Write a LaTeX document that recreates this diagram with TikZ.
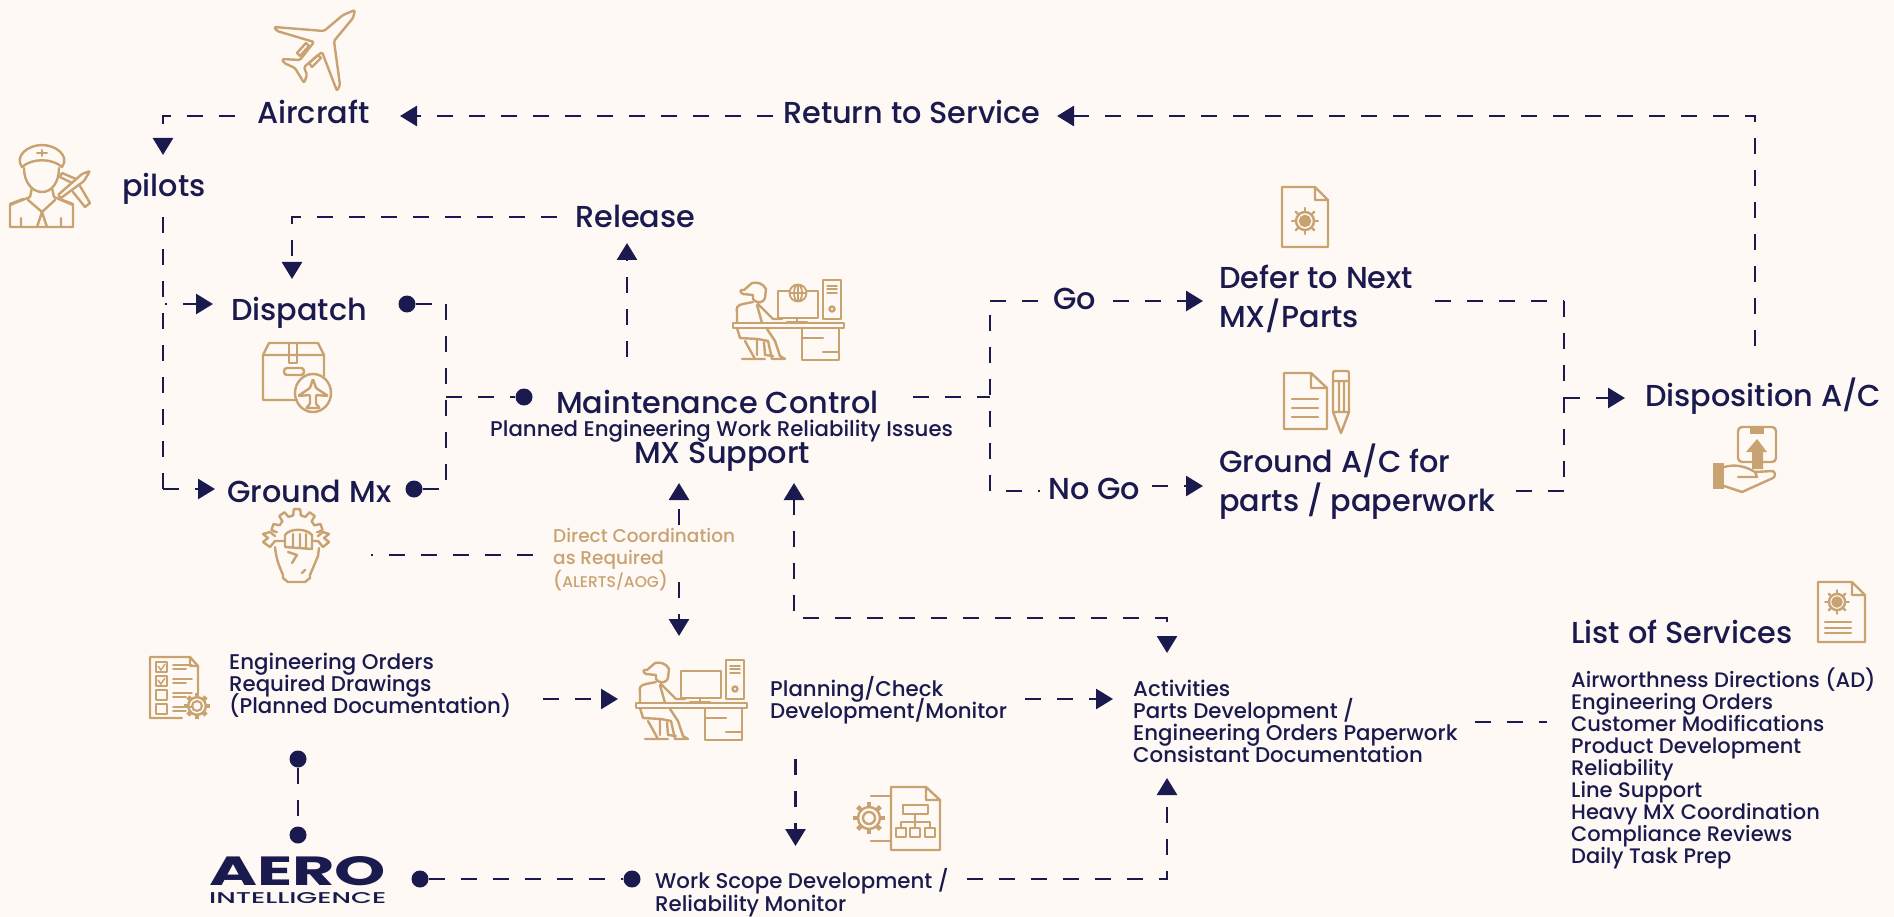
\documentclass[tikz,border=0pt]{standalone}
\usepackage{fontspec}
\setmainfont{Poppins}[UprightFont=* Medium,BoldFont=* Bold]
\usetikzlibrary{arrows.meta}
\definecolor{navy}{HTML}{1A1A4E}
\definecolor{tan}{HTML}{C9A272}
\definecolor{cream}{HTML}{FEF9F5}
\newcommand{\fsz}[2]{\fontsize{#1}{#2}\selectfont\lineskiplimit=-20pt\relax}
\tikzset{
  conn/.style={draw=navy, line width=2.8pt, dash pattern=on 16pt off 16pt},
  arr/.style={conn, -{Triangle[length=17pt,width=20pt]}},
  arrb/.style={conn, {Triangle[length=17pt,width=20pt]}-{Triangle[length=17pt,width=20pt]}},
  icon/.style={draw=tan, line width=2.4pt, line join=round, line cap=round},
  dotn/.style={circle, fill=navy, inner sep=0pt, minimum size=17pt},
  lab/.style={text=navy, inner sep=0pt, anchor=base west, align=left, font=\fsz{30.3}{38.5}},
  labm/.style={text=navy, inner sep=0pt, anchor=base west, align=left, font=\fsz{21.3}{22}},
  labt/.style={text=tan, inner sep=0pt, anchor=base west, align=left, font=\fsz{18.5}{22.5}},
  pics/deskicon/.style={code={
    \draw[icon] (0,43) rectangle (111,48);
    \draw[icon] (90,0) rectangle (108,39);
    \foreach \yy in {6,9,13} \draw[icon,line width=1.5pt] (94,\yy)--(104,\yy);
    \draw[icon] (99,29) circle (2.5);
    \draw[icon] (45,11) rectangle (85,38);
    \draw[icon] (64,38)--(64,43) (54,42)--(74,42);
    \draw[icon] (69,48) rectangle (106,80) (69,58)--(90,58) (90,72)--(106,72);
    \draw[icon] (19,3)..controls (24,2) and (30,3)..(33,9)--(32,18)..controls (31,22) and (25,25)..(20,19)--(20,15)--(10,14)..controls (6,12) and (7,9)..(11,10)--cycle;
    \draw[icon] (20,22)--(10,24)..controls (4,25) and (3,28)..(4,33)--(4,43) (25,24)--(40,39)--(49,39) (24,25)--(29,43);
    \draw[icon] (4,48)--(7,58)--(25,59) (12,61)--(22,79) (9,79)--(32,79) (34,49)--(42,61)--(47,76)--(52,79)--(39,79)--(35,61)--(25,59);
    \draw[icon] (24,60)--(24,75) (31,62)--(32,75)--(40,76);
  }},
  pics/sunicon/.style={code={
    \draw[icon,fill=tan] (0,0) circle (5);
    \draw[icon] (0,0) circle (9);
    \foreach \a in {0,45,...,315} \draw[icon] (\a:9)--(\a:13);
  }},
  pics/gearicon/.style={code={
    \draw[icon] (0,0) circle (11);
    \draw[icon] (0,0) circle (6);
    \foreach \a in {0,45,...,315} \draw[icon,line width=4.5pt,line cap=butt] (\a:10.5)--(\a:16);
    \fill[cream] (0,0) circle (4.5);
  }},
}

\begin{document}
\begin{tikzpicture}[x=1pt,y=-1pt]
  \fill[cream] (0,0) rectangle (1894,917);

  % text
  \node[lab] (aircraft) at (257,124) {Aircraft};
  \node[lab] (pilots) at (122,197) {pilots};
  \node[lab] (rts) at (783,124) {Return to Service};
  \node[lab] (release) at (575,228) {Release};
  \node[lab] (dispatch) at (231,320) {Dispatch};
  \node[lab] (groundmx) at (227,502) {Ground Mx};
  \node[lab] (mxc) at (556,413) {Maintenance Control};
  \node[labm] (mxsub) at (490,436) {Planned Engineering Work Reliability Issues};
  \node[lab] (mxsup) at (634,463) {MX Support};
  \node[lab] (go) at (1053,309) {Go};
  \node[lab] (nogo) at (1048,499) {No Go};
  \node[lab] (defer) at (1219,327) {Defer to Next\\MX/Parts};
  \node[lab] (grounded) at (1219,511) {Ground A/C for\\parts / paperwork};
  \node[lab] (dispo) at (1645,406) {Disposition A/C};
  \node[labt] (direct) at (553,587) {Direct Coordination\\as Required\\({\fsz{15.5}{22.5}ALERTS/AOG})};
  \node[labm] (eng) at (229,713) {Engineering Orders\\Required Drawings\\(Planned Documentation)};
  \node[labm] (plan) at (770,718) {Planning/Check\\Development/Monitor};
  \node[labm] (act) at (1133,762) {Activities\\Parts Development /\\Engineering Orders Paperwork\\Consistant Documentation};
  \node[labm,font=\fsz{21.3}{23}] (scope) at (655,911) {Work Scope Development /\\Reliability Monitor};
  \node[lab] (services) at (1571,643) {List of Services};
  \node[labm,font=\fsz{21}{22}] (servlist) at (1571,863) {Airworthness Directions (AD)\\Engineering Orders\\Customer Modifications\\Product Development\\Reliability\\Line Support\\Heavy MX Coordination\\Compliance Reviews\\Daily Task Prep};
  \node[text=navy,inner sep=0pt,anchor=north west] (aero) at (209,856) {\resizebox{177pt}{29pt}{\bfseries AERO}};
  \node[text=navy,inner sep=0pt,anchor=north west] (intel) at (209,892) {\resizebox{177pt}{11pt}{INTELLIGENCE}};

  % dots
  \node[dotn] (dpdot) at (407,304) {};
  \node[dotn] (gmdot) at (414,489) {};
  \node[dotn] (mxdot) at (524,397) {};
  \node[dotn] (endot) at (298,759) {};
  \node[dotn] (aedot) at (298,835) {};
  \node[dotn] (ardot) at (420,879) {};
  \node[dotn] (wsdot) at (632,879) {};

  % free ends
  \coordinate (a1) at (235,116);
  \coordinate (a2) at (163,155);
  \coordinate (a3) at (163,217);
  \coordinate (a4) at (213,304);
  \coordinate (a5) at (215,489);
  \coordinate (a6) at (165,304);
  \coordinate (r1) at (773,116);
  \coordinate (r2) at (400,116);
  \coordinate (r3) at (1755,346);
  \coordinate (r4) at (1057,116);
  \coordinate (l1) at (627,357);
  \coordinate (l2) at (627,243);
  \coordinate (l3) at (557,217);
  \coordinate (l4) at (292,279);
  \coordinate (d1) at (446,304);
  \coordinate (d2) at (446,489);
  \coordinate (k1) at (446,397);
  \coordinate (k2) at (913,397);
  \coordinate (k3) at (990,397);
  \coordinate (t1) at (990,491);
  \coordinate (t2) at (990,301);
  \coordinate (g1) at (1203,301);
  \coordinate (g2) at (1152,486);
  \coordinate (g3) at (1203,486);
  \coordinate (g4) at (1040,491);
  \coordinate (g5) at (1006,491);
  \coordinate (g6) at (1040,301);
  \coordinate (g7) at (1113,301);
  \coordinate (s1) at (1435,301);
  \coordinate (s2) at (1516,491);
  \coordinate (s3) at (1564,398);
  \coordinate (s4) at (1625,398);
  \coordinate (s5) at (1564,301);
  \coordinate (s6) at (1564,491);
  \coordinate (c1) at (679,525);
  \coordinate (c2) at (679,483);
  \coordinate (c3) at (679,582);
  \coordinate (c4) at (679,636);
  \coordinate (c5) at (371,555);
  \coordinate (c6) at (535,555);
  \coordinate (b1) at (794,483);
  \coordinate (b2) at (1167,653);
  \coordinate (p1) at (543,699);
  \coordinate (p2) at (618,699);
  \coordinate (p3) at (1025,699);
  \coordinate (p4) at (1113,699);
  \coordinate (p5) at (795.5,759);
  \coordinate (p6) at (795.5,846);
  \coordinate (w1) at (967,879);
  \coordinate (w2) at (1167,778);
  \coordinate (v1) at (1475,722);
  \coordinate (v2) at (1547,722);

  % connectors
  \draw[arr] (a1) -- (163,116) -- (a2);
  \draw[conn] (a3) -- (163,489);
  \draw[arr,dash phase=14pt] (a6) -- (a4);
  \draw[arr] (163,489) -- (a5);
  \draw[arr] (r1) -- (r2);
  \draw[arr] (r3) -- (1755,116) -- (r4);
  \draw[arr] (l1) -- (l2);
  \draw[arr] (l3) -- (292,217) -- (l4);
  \draw[conn] (dpdot) -- (d1);
  \draw[conn] (d1) -- (d2);
  \draw[conn] (gmdot) -- (d2);
  \draw[conn] (k1) -- (mxdot);
  \draw[conn] (k2) -- (k3);
  \draw[conn] (t1) -- (t2);
  \draw[conn] (t2) -- (g6);
  \draw[arr] (g7) -- (g1);
  \draw[conn] (g5) -- (g4);
  \draw[arr] (g2) -- (g3);
  \draw[conn] (s1) -- (s5);
  \draw[conn] (s5) -- (s6);
  \draw[conn] (s6) -- (s2);
  \draw[arr] (s3) -- (s4);
  \draw[arr] (c1) -- (c2);
  \draw[arr] (c3) -- (c4);
  \draw[conn,dash phase=14pt] (c5) -- (c6);
  \draw[arrb] (b1) -- (794,618) -- (1167,618) -- (b2);
  \draw[arr] (p1) -- (p2);
  \draw[arr] (p3) -- (p4);
  \draw[arr] (p5) -- (p6);
  \draw[conn] (endot) -- (aedot);
  \draw[conn] (ardot) -- (wsdot);
  \draw[arr] (w1) -- (1167,879) -- (w2);
  \draw[conn] (v1) -- (v2);

  % plane
  \draw[icon,rounded corners=1.5pt] (355,10)--(353,18)--(334,41)--(340,85)--(337,91)--(322,52)--(304,67)--(307,75)--(304,83)--(295,68)--(284,63)--(282,59)--(300,60)--(314,42)--(277,31)--(274,27)--(324,31)--(343,15)--cycle;
  \draw[icon] (297,53)--(306,43)--(309,46)--(300,56)--cycle (309,63)--(318,55)--(321,58)--(312,67)--cycle;

  % pilot
  \draw[icon] (22,167)..controls (14,156) and (28,145)..(42,145)..controls (56,145) and (70,156)..(62,167)..controls (52,158) and (32,158)..(22,167)--cycle;
  \draw[icon,line width=2pt] (42,150)--(42,156) (37,153)--(47,153);
  \draw[icon] (24,168)..controls (24,182) and (32,192)..(42,192)..controls (52,192) and (59,182)..(59,168);
  \draw[icon] (32,188)--(30,197)--(10,205)--(10,227)--(73,227)--(73,205)--(54,197)--(52,188);
  \draw[icon] (10,204)--(23,199) (73,204)--(60,199) (28,200)--(42,212)--(55,200) (42,212)--(37,227) (42,212)--(47,227) (21,218)--(21,227) (61,218)--(61,227);
  \draw[icon,rounded corners=1pt] (90,171)--(82,174)--(58,195)--(61,198)--(84,181)--cycle;
  \draw[icon] (72,183)--(60,177)--(62,173)--(76,179) (80,186)--(90,203)--(85,207)--(73,192);

  % box with plane
  \draw[icon] (263,355)--(269,343)--(318,343)--(324,355)--(263,355)--(263,400)--(297,400) (324,355)--(324,376);
  \draw[icon] (289,343)--(289,363)--(297,363)--(297,343);
  \draw[icon,rounded corners=3pt] (284,368) rectangle (304,375);
  \draw[icon] (313,393) ellipse (18 and 19);
  \draw[icon,rounded corners=1pt] (313,379)--(316,388)--(328,396)--(316,395)--(316,404)--(320,408)--(306,408)--(310,404)--(310,395)--(298,396)--(310,388)--cycle;

  % fist and wrench
  \foreach \a in {198,234,270,306,342}
    \draw[icon] (297,535)+(\a-11:20)--+(\a-7:26)--+(\a+7:26)--+(\a+11:20)--+(\a+25:20);
  \fill[cream] (276,533) rectangle (318,548);
  \draw[icon] (275,536)--(270,532)--(263,534)--(268,538)--(263,542)--(270,547)--(275,541)--(285,541);
  \draw[icon] (318,536)--(323,532)--(329,534)--(324,538)--(329,542)--(323,547)--(318,541)--(312,541);
  \draw[icon] (285,535)..controls (290,528) and (306,528)..(312,535);
  \draw[icon] (285,535)--(285,547) (293,534)--(293,548) (300,534)--(300,548) (306,534)--(306,549) (312,535)--(312,549)--(285,547);
  \draw[icon] (275,547)..controls (276,558) and (279,566)..(283,575)--(283,578)--(288,582)--(305,582)--(310,578)--(310,575)--(318,556)--(319,548);
  \draw[icon] (288,552)--(297,555)--(292,563) (302,573)--(305,570);

  % worker icons
  \pic at (733,280) {deskicon};
  \fill[cream] (798,293) circle (9);
  \draw[icon,line width=1.8pt] (798,293) circle (8.5) (789.5,293)--(806.5,293) (798,284.5)--(798,301.5) (798,293) ellipse (4 and 8.5);
  \pic at (636,660) {deskicon};

  % defer doc
  \draw[icon] (1282,187)--(1315,187)--(1328,200)--(1328,247)--(1282,247)--cycle (1315,187)--(1315,200)--(1328,200);
  \pic at (1305,221) {sunicon};

  % doc and pencil
  \draw[icon] (1284,373)--(1311,373)--(1327,388)--(1327,429)--(1284,429)--cycle (1311,373)--(1311,388)--(1327,388);
  \foreach \yy in {399,408,417} \draw[icon] (1292,\yy)--(1318,\yy);
  \draw[icon,rounded corners=2pt] (1333,412)--(1333,371)--(1349,371)--(1349,412);
  \draw[icon] (1333,412)--(1341,433)--(1349,412)--cycle (1333,381)--(1349,381) (1339,381)--(1339,412) (1344,381)--(1344,412);

  % disposition hand
  \draw[icon,rounded corners=4pt] (1738,427) rectangle (1776,462);
  \fill[tan] (1750,427) rectangle (1764,434);
  \fill[tan] (1757,439)--(1767,452)--(1763,452)--(1763,469)--(1752,469)--(1752,452)--(1746,452)--cycle;
  \fill[tan] (1713,463) rectangle (1724,489);
  \draw[icon] (1724,467)..controls (1735,464) and (1745,466)..(1755,472)--(1773,471)..controls (1776,473) and (1775,477)..(1773,478)--(1742,492)--(1724,486) (1755,472)--(1757,477)--(1738,477);

  % checklist
  \draw[icon] (182,718)--(150,718)--(150,657)--(190,657)--(198,666)--(198,694) (190,657)--(190,666)--(198,666);
  \foreach \yy in {662,676,690,704} {
    \draw[icon,line width=1.8pt] (156,\yy) rectangle (167,\yy+10);
    \draw[icon,line width=1.8pt] (173,\yy+3)--(192,\yy+3) (173,\yy+7)--(186,\yy+7);
  }
  \draw[tan,line width=1.5pt] (158,666)--(161,670)--(165,664) (158,680)--(161,684)--(165,678);
  \pic[scale=0.8] at (197,706) {gearicon};

  % gear and org chart
  \draw[icon] (891,787)--(926,787)--(940,800)--(940,850)--(891,850)--cycle (926,787)--(926,800)--(940,800);
  \draw[icon] (903,805) rectangle (928,814) (915,814)--(915,822) (901,828)--(901,822)--(930,822)--(930,828) (915,822)--(915,828);
  \draw[icon] (896,828) rectangle (906,837) (910,828) rectangle (920,837) (925,828) rectangle (935,837);
  \draw[icon] (871,796)--(891,796) (871,841)--(891,841);
  \pic at (869,818) {gearicon};

  % services doc
  \draw[icon] (1818,582)--(1852,582)--(1865,595)--(1865,642)--(1818,642)--cycle (1852,582)--(1852,595)--(1865,595);
  \pic[scale=0.9] at (1837,602) {sunicon};
  \foreach \yy in {622,628,633} \draw[icon] (1825,\yy)--(1851,\yy);
\end{tikzpicture}
\end{document}
